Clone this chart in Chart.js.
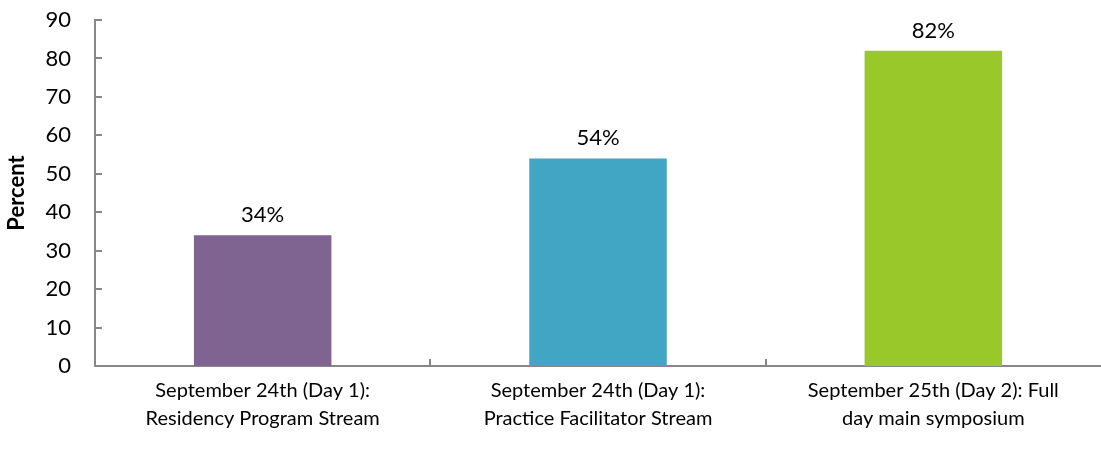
<!DOCTYPE html>
<html>
<head>
<meta charset="utf-8">
<script src="https://cdn.jsdelivr.net/npm/chart.js@4/dist/chart.umd.min.js"></script>
<style>
  html, body { margin: 0; padding: 0; background: #fff; }
  #wrap { width: 1101px; height: 449px; }
</style>
</head>
<body>
<div id="wrap"><canvas id="attendChart"></canvas></div>
<script>
const categories = [
    ['September 24th (Day 1):', 'Residency Program Stream'],
    ['September 24th (Day 1):', 'Practice Facilitator Stream'],
    ['September 25th (Day 2): Full', 'day main symposium']
];
const percentValues = [34, 54, 82];
const barColors = ['#7F6391', '#41A5C4', '#98C82A'];
const yTicks = [0, 10, 20, 30, 40, 50, 60, 70, 80, 90];

const axisColor = '#888888';
const fontFamily = 'Lato, "Open Sans", sans-serif';

// ticks pointing into the plot, like the original
const innerTicks = {
    id: 'innerTicks',
    afterDraw(chart) {
        const c = chart.ctx;
        const x = chart.scales.x, y = chart.scales.y;
        c.save();
        c.strokeStyle = axisColor;
        c.lineWidth = 2;
        c.beginPath();
        yTicks.forEach(v => {
            const py = Math.round(y.getPixelForValue(v));
            c.moveTo(x.left, py);
            c.lineTo(x.left + 7, py);
        });
        for (let i = 1; i < categories.length; i++) {
            const px = Math.round((x.getPixelForValue(i - 1) + x.getPixelForValue(i)) / 2);
            c.moveTo(px, y.bottom);
            c.lineTo(px, y.bottom - 7);
        }
        c.stroke();
        c.restore();
    }
};

const valueLabels = {
    id: 'valueLabels',
    afterDatasetsDraw(chart) {
        const c = chart.ctx;
        c.save();
        c.fillStyle = '#000';
        c.font = '22px ' + fontFamily;
        c.textAlign = 'center';
        c.textBaseline = 'bottom';
        chart.getDatasetMeta(0).data.forEach((bar, i) => {
            c.fillText(percentValues[i] + '%', bar.x, bar.y - 9);
        });
        c.restore();
    }
};

document.addEventListener('DOMContentLoaded', function () {
    const ctx = document.getElementById('attendChart');
    new Chart(ctx, {
        type: 'bar',
        data: {
            labels: categories,
            datasets: [{
                label: 'Percent',
                data: percentValues,
                backgroundColor: barColors,
                barPercentage: 0.41,
                categoryPercentage: 1.0
            }]
        },
        options: {
            responsive: true,
            maintainAspectRatio: false,
            animation: false,
            layout: { padding: { top: 20, right: 0, left: 0, bottom: 0 } },
            plugins: {
                legend: { display: false },
                tooltip: { enabled: false }
            },
            scales: {
                y: {
                    min: 0,
                    max: 90,
                    afterFit(scale) {
                        scale.width = 95;
                        scale.paddingTop = 0;
                        scale.paddingBottom = 0;
                    },
                    afterBuildTicks(scale) { scale.ticks = yTicks.map(v => ({ value: v })); },
                    grid: { display: false, drawTicks: false },
                    border: { display: true, color: axisColor, width: 2 },
                    title: {
                        display: true,
                        text: 'Percent',
                        color: '#000',
                        font: { family: fontFamily, size: 22, weight: 'bold' },
                        padding: { top: 4, bottom: 0 }
                    },
                    ticks: {
                        color: '#000',
                        padding: 24,
                        font: { family: fontFamily, size: 22 }
                    }
                },
                x: {
                    afterFit(scale) {
                        scale.height = 83;
                        scale.paddingLeft = 0;
                        scale.paddingRight = 0;
                    },
                    grid: { display: false, drawTicks: false },
                    border: { display: true, color: axisColor, width: 2 },
                    ticks: {
                        color: '#000',
                        padding: 11,
                        maxRotation: 0,
                        font: { family: fontFamily, size: 20, lineHeight: 1.4 }
                    }
                }
            }
        },
        plugins: [innerTicks, valueLabels]
    });
});
</script>
</body>
</html>
